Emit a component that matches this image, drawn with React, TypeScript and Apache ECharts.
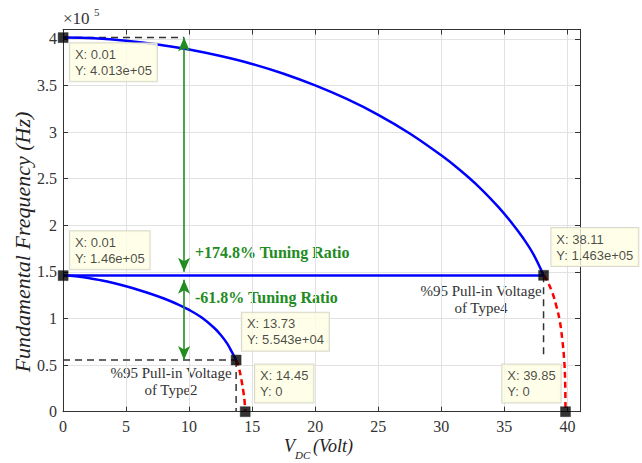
import React, { useEffect, useRef } from "react";
import * as echarts from "echarts";

// ---- data (V in volts, frequency in Hz) ----
const type4Curve: [number, number][] = [
  [0.01, 401300], [2.5, 400500], [5, 398000], [7.5, 394000], [10, 388500],
  [12.5, 381500], [15, 373000], [17.5, 362500], [20, 350000], [22.5, 335500],
  [25, 318500], [27.5, 298500], [30, 275000], [31.5, 259000], [33, 241000],
  [34.5, 220000], [35.5, 204000], [36.5, 186000], [37.3, 169000], [38.11, 146300],
];
const type4Unstable: [number, number][] = [
  [38.11, 146300], [38.4, 140000], [38.8, 128000], [39.15, 112000], [39.4, 97000],
  [39.6, 77000], [39.75, 55000], [39.82, 33000], [39.85, 0],
];
const type2Curve: [number, number][] = [
  [0.01, 146000], [1, 145200], [2, 143500], [3, 141000], [4, 138000],
  [5, 134500], [6, 130600], [7, 126300], [8, 121400], [9, 115800],
  [10, 109200], [11, 101000], [12, 89800], [12.5, 82500], [13, 73500],
  [13.4, 64000], [13.73, 55430],
];
const type2Unstable: [number, number][] = [
  [13.73, 55430], [13.95, 47000], [14.15, 34000], [14.3, 22000], [14.4, 11000], [14.45, 0],
];
const baseLine: [number, number][] = [[0.01, 146000], [38.11, 146000]];
const guideTop: [number, number][] = [[0, 401300], [9.6, 401300]];
const guideType2H: [number, number][] = [[0, 55430], [13.73, 55430]];
const guideType2V: [number, number][] = [[13.73, 55430], [13.73, 0]];
const guideType4V: [number, number][] = [[38.11, 146300], [38.11, 58000]];
const arrowUp: [number, number][] = [[9.6, 150000], [9.6, 401300]];
const arrowDown: [number, number][] = [[9.6, 141500], [9.6, 55430]];
const dataTips: [number, number][] = [
  [0.01, 401300], [0.01, 146000], [13.73, 55430], [14.45, 0], [38.11, 146300], [39.85, 0],
];
const tipOffsets: [number, number][] = [
  [12, 11], [12, -39], [11, -42], [15, -42], [13, -42], [-58, -42],
];
const xTicks = [0, 5, 10, 15, 20, 25, 30, 35, 40];
const yTicks = [0, 0.5, 1, 1.5, 2, 2.5, 3, 3.5, 4];

const SERIF = "'Liberation Serif', 'Times New Roman', serif";
const SANS = "'Liberation Sans', Arial, sans-serif";

function fmtY(v: number): string {
  if (v === 0) return "0";
  const e = Math.floor(Math.log10(Math.abs(v)));
  let m = (v / Math.pow(10, e)).toPrecision(4);
  if (m.indexOf(".") >= 0) m = m.replace(/0+$/, "").replace(/\.$/, "");
  return m + "e" + (e >= 0 ? "+" : "-") + String(Math.abs(e)).padStart(2, "0");
}

export default function App() {
  const ref = useRef<HTMLDivElement>(null);
  useEffect(() => {
    if (!ref.current) return;
    const chart = echarts.init(ref.current, undefined, { renderer: "svg" });
    const axisColor = "#333";
    const dashed = (data: [number, number][]) => ({
      type: "line",
      data,
      symbol: "none",
      lineStyle: { color: "#333", width: 1.5, type: [7, 5] },
      z: 2,
      silent: true,
    });
    const arrow = (pts: [number, number][]) => ({
      type: "line",
      data: [],
      silent: true,
      markLine: {
        silent: true,
        symbol: ["arrow", "arrow"],
        symbolSize: [9, 14],
        label: { show: false },
        lineStyle: { color: "#228b22", width: 1.6, type: "solid" },
        data: [[{ coord: pts[0] }, { coord: pts[1] }]],
      },
    });
    chart.setOption({
      animation: false,
      backgroundColor: "#fff",
      grid: { left: 63, right: 62, top: 29.5, bottom: 51.3 },
      xAxis: [
        {
          type: "value", min: 0, max: 41, interval: 5, position: "bottom",
          axisLine: { show: true, onZero: false, lineStyle: { color: axisColor, width: 1 } },
          axisTick: { show: true, inside: true, length: 5, lineStyle: { color: axisColor } },
          axisLabel: {
            color: "#333", fontFamily: SERIF, fontSize: 16, margin: 7,
            formatter: (v: number) => (xTicks.indexOf(v) >= 0 ? String(v) : ""),
          },
          splitLine: { show: true, lineStyle: { color: "#e2e2e2", width: 1 } },
        },
        {
          type: "value", min: 0, max: 41, interval: 5, position: "top",
          axisLine: { show: true, onZero: false, lineStyle: { color: axisColor, width: 1 } },
          axisTick: { show: true, inside: true, length: 5, lineStyle: { color: axisColor } },
          axisLabel: { show: false },
          splitLine: { show: false },
        },
      ],
      yAxis: [
        {
          type: "value", min: 0, max: 410000, interval: 50000, position: "left",
          axisLine: { show: true, onZero: false, lineStyle: { color: axisColor, width: 1 } },
          axisTick: { show: true, inside: true, length: 5, lineStyle: { color: axisColor } },
          axisLabel: {
            color: "#333", fontFamily: SERIF, fontSize: 16, margin: 6,
            formatter: (v: number) => (yTicks.indexOf(v / 1e5) >= 0 ? String(v / 1e5) : ""),
          },
          splitLine: { show: true, lineStyle: { color: "#e2e2e2", width: 1 } },
        },
        {
          type: "value", min: 0, max: 410000, interval: 50000, position: "right",
          axisLine: { show: true, onZero: false, lineStyle: { color: axisColor, width: 1 } },
          axisTick: { show: true, inside: true, length: 5, lineStyle: { color: axisColor } },
          axisLabel: { show: false },
          splitLine: { show: false },
        },
      ],
      series: [
        dashed(guideTop),
        dashed(guideType2H),
        dashed(guideType2V),
        dashed(guideType4V),
        {
          type: "line", data: type4Unstable, symbol: "none", smooth: 0.4, z: 3,
          lineStyle: { color: "#ff0000", width: 2.5, type: [6, 4] },
        },
        {
          type: "line", data: type2Unstable, symbol: "none", smooth: 0.4, z: 3,
          lineStyle: { color: "#ff0000", width: 2.5, type: [6, 4] },
        },
        {
          type: "line", data: type4Curve, symbol: "none", smooth: 0.4, z: 4,
          lineStyle: { color: "#0000ff", width: 2.5 },
        },
        {
          type: "line", data: type2Curve, symbol: "none", smooth: 0.4, z: 4,
          lineStyle: { color: "#0000ff", width: 2.5 },
        },
        {
          type: "line", data: baseLine, symbol: "none", z: 4,
          lineStyle: { color: "#0000ff", width: 2.5 },
        },
        arrow(arrowUp),
        arrow(arrowDown),
        {
          type: "scatter",
          symbol: "rect",
          symbolSize: 10,
          z: 10,
          itemStyle: { color: "#000", borderColor: "#222", borderWidth: 0.5 },
          data: dataTips.map((p, i) => ({
            value: p,
            label: { position: tipOffsets[i] },
          })),
          label: {
            show: true,
            align: "left",
            verticalAlign: "top",
            formatter: (pr: any) => "X: " + String(pr.value[0]) + "\nY: " + fmtY(pr.value[1]),
            fontFamily: SANS,
            fontSize: 13,
            lineHeight: 16,
            color: "#1a1a1a",
            backgroundColor: "#ffffe3",
            borderColor: "#cfcfc0",
            borderWidth: 1,
            padding: [3, 5, 3, 5],
          },
        },
      ],
      graphic: [
        {
          type: "text", left: 63, top: 10,
          style: { text: "\u00d710", font: `17px ${SERIF}`, fill: "#333" },
        },
        {
          type: "text", left: 94, top: 6,
          style: { text: "5", font: `11px ${SERIF}`, fill: "#333" },
        },
        {
          type: "text", x: 22, y: 242, rotation: Math.PI / 2,
          style: {
            text: "Fundamental Frequency (Hz)", font: `italic 22px ${SERIF}`,
            fill: "#222", align: "center", verticalAlign: "middle",
          },
        },
        {
          type: "text", x: 284, y: 446,
          style: { text: "V", font: `italic 18px ${SERIF}`, fill: "#222", verticalAlign: "middle" },
        },
        {
          type: "text", x: 295, y: 455,
          style: { text: "DC", font: `italic 11px ${SERIF}`, fill: "#222", verticalAlign: "middle" },
        },
        {
          type: "text", x: 313, y: 446,
          style: { text: "(Volt)", font: `italic 18px ${SERIF}`, fill: "#222", verticalAlign: "middle" },
        },
        {
          type: "text", x: 195, y: 252,
          style: {
            text: "+174.8% Tuning Ratio", font: `bold 16px ${SERIF}`, fill: "#228b22",
            verticalAlign: "middle",
          },
        },
        {
          type: "text", x: 195, y: 297,
          style: {
            text: "-61.8% Tuning Ratio", font: `bold 16px ${SERIF}`, fill: "#228b22",
            verticalAlign: "middle",
          },
        },
        {
          type: "text", x: 171, y: 381,
          style: {
            text: "%95 Pull-in Voltage\nof Type2", font: `15px ${SERIF}`, fill: "#333",
            align: "center", verticalAlign: "middle", lineHeight: 17,
          },
        },
        {
          type: "text", x: 481, y: 299,
          style: {
            text: "%95 Pull-in Voltage\nof Type4", font: `15px ${SERIF}`, fill: "#333",
            align: "center", verticalAlign: "middle", lineHeight: 17,
          },
        },
      ],
    });
    return () => chart.dispose();
  }, []);
  return (
    <div
      ref={ref}
      style={{ position: "fixed", left: 0, top: 0, width: 642, height: 463, background: "#fff" }}
    />
  );
}
